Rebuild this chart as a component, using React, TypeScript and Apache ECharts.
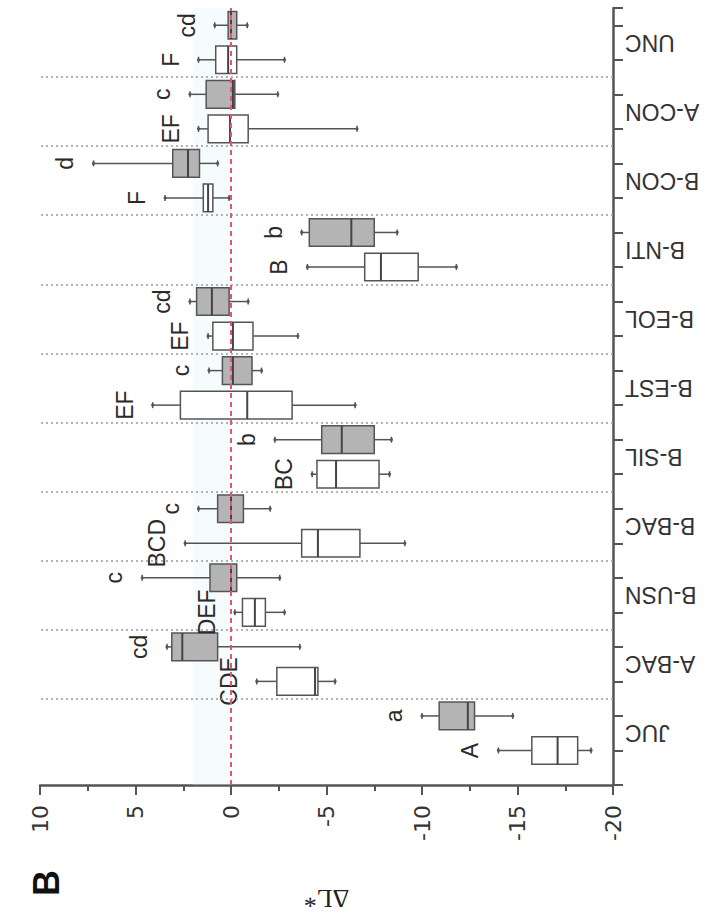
import React, { useEffect, useRef } from 'react';
import * as echarts from 'echarts';

// Categories, bottom (JUC) to top (UNC)
const categories = ['JUC', 'A-BAC', 'B-USN', 'B-BAC', 'B-SIL', 'B-EST', 'B-EOL', 'B-NTI', 'B-CON', 'A-CON', 'UNC'];

// White boxes (uppercase letters): [min, Q1, median, Q3, max] of ΔL*
const whiteStats = [
  [-18.85, -18.15, -17.1, -15.75, -14.0],
  [-5.45, -4.55, -4.4, -2.4, -1.35],
  [-2.8, -1.8, -1.25, -0.6, -0.2],
  [-9.1, -6.75, -4.55, -3.7, 2.4],
  [-8.3, -7.75, -5.5, -4.5, -4.25],
  [-6.5, -3.2, -0.85, 2.65, 4.1],
  [-3.5, -1.15, -0.1, 0.95, 1.2],
  [-11.8, -9.8, -7.85, -7.0, -4.0],
  [0.1, 0.95, 1.2, 1.45, 3.45],
  [-6.6, -0.9, 0.05, 1.2, 1.7],
  [-2.8, -0.3, 0.15, 0.8, 1.7],
];

// Grey boxes (lowercase letters): [min, Q1, median, Q3, max]
const grayStats = [
  [-14.75, -12.75, -12.4, -10.9, -10.0],
  [-3.6, 0.7, 2.55, 3.1, 3.35],
  [-2.55, -0.3, 0.0, 1.1, 4.65],
  [-2.05, -0.65, 0.0, 0.7, 1.7],
  [-8.4, -7.5, -5.8, -4.75, -2.3],
  [-1.6, -1.1, -0.1, 0.45, 1.15],
  [-0.9, 0.1, 1.0, 1.8, 2.15],
  [-8.7, -7.5, -6.3, -4.1, -3.7],
  [0.7, 1.65, 2.25, 3.05, 7.2],
  [-2.45, -0.2, -0.1, 1.3, 2.15],
  [-0.85, -0.3, 0.0, 0.15, 0.85],
];

const whiteLetters = ['A', 'CDE', 'DEF', 'BCD', 'BC', 'EF', 'EF', 'B', 'F', 'EF', 'F'];
const grayLetters = ['a', 'cd', 'c', 'c', 'b', 'c', 'cd', 'b', 'd', 'c', 'cd'];

const valueMin = -20;
const valueMax = 10;
const valueStep = 5;

const SANS = '"Liberation Sans", Arial, sans-serif';

function makeRenderItem(fill: string, letters: string[]) {
  return (params: any, api: any) => {
    const pos = api.value(0);
    const vals = [1, 2, 3, 4, 5].map((k) => api.value(k));
    const letter = letters[params.dataIndex] || '';
    const h = api.size([0, 1])[1] * 0.8;
    const y = api.coord([0, pos])[1];
    const px = vals.map((v: number) => api.coord([v, pos])[0]);
    const left = Math.min(px[1], px[3]);
    const right = Math.max(px[1], px[3]);
    const stroke = '#555';
    const lw = 1.5;
    const children: any[] = [
      { type: 'line', shape: { x1: px[0], y1: y, x2: px[1], y2: y }, style: { stroke, lineWidth: lw } },
      { type: 'line', shape: { x1: px[3], y1: y, x2: px[4], y2: y }, style: { stroke, lineWidth: lw } },
      { type: 'line', shape: { x1: px[0], y1: y - 3, x2: px[0], y2: y + 3 }, style: { stroke, lineWidth: lw } },
      { type: 'line', shape: { x1: px[4], y1: y - 3, x2: px[4], y2: y + 3 }, style: { stroke, lineWidth: lw } },
      { type: 'circle', shape: { cx: px[0], cy: y, r: 1.6 }, style: { fill: stroke } },
      { type: 'circle', shape: { cx: px[4], cy: y, r: 1.6 }, style: { fill: stroke } },
      {
        type: 'rect',
        shape: { x: left, y: y - h / 2, width: right - left, height: h },
        style: { fill, stroke, lineWidth: lw },
      },
      {
        type: 'line',
        shape: { x1: px[2], y1: y - h / 2, x2: px[2], y2: y + h / 2 },
        style: { stroke: '#444', lineWidth: 2 },
      },
      {
        type: 'text',
        x: px[4] - 28,
        y: y,
        rotation: Math.PI / 2,
        style: {
          text: letter,
          fill: '#2a2a2a',
          font: `23px ${SANS}`,
          align: 'center',
          verticalAlign: 'middle',
        },
      },
    ];
    return { type: 'group', children };
  };
}

export default function App() {
  const ref = useRef<HTMLDivElement>(null);

  useEffect(() => {
    document.body.style.margin = '0';
    if (!ref.current) return;
    const chart = echarts.init(ref.current, null, { renderer: 'svg' });

    const nPos = categories.length * 2;
    const posMax = nPos + 0.5;
    const whiteData = whiteStats.map((s, i) => [2 * i + 1, ...s]);
    const grayData = grayStats.map((s, i) => [2 * i + 2, ...s]);
    const separators = categories.slice(1).map((_, i) => 2 * i + 2.5);

    const axisColor = '#555';

    const option: any = {
      animation: false,
      backgroundColor: '#fff',
      grid: { left: 40, right: 103, top: 8, bottom: 139, containLabel: false },
      xAxis: {
        type: 'value',
        inverse: true,
        min: valueMin,
        max: valueMax,
        interval: valueStep,
        name: 'ΔL*',
        nameLocation: 'middle',
        nameGap: 100,
        nameRotate: 180,
        nameTextStyle: { fontFamily: '"Liberation Serif", "DejaVu Serif", serif', fontSize: 26, color: '#222' },
        axisLine: { show: true, onZero: false, lineStyle: { color: axisColor, width: 2.5 } },
        axisTick: { show: true, inside: false, length: 10, lineStyle: { color: axisColor, width: 2 } },
        minorTick: { show: true, splitNumber: 2, length: 6, lineStyle: { color: axisColor, width: 2 } },
        axisLabel: {
          rotate: 90,
          margin: 20,
          fontSize: 22,
          fontFamily: '"DejaVu Sans", sans-serif',
          color: '#333',
        },
        splitLine: { show: false },
      },
      yAxis: [
        {
          type: 'value',
          position: 'right',
          min: 0,
          max: posMax,
          interval: 1,
          axisLine: { show: true, onZero: false, lineStyle: { color: axisColor, width: 2.5 } },
          axisTick: { show: true, inside: false, length: 10, lineStyle: { color: axisColor, width: 2 } },
          axisLabel: { show: false },
          splitLine: { show: false },
        },
        {
          type: 'value',
          position: 'right',
          min: 0,
          max: posMax,
          interval: 0.5,
          axisLine: { show: false },
          axisTick: { show: false },
          splitLine: { show: false },
          axisLabel: {
            rotate: 180,
            margin: 12,
            fontSize: 23,
            fontFamily: SANS,
            color: '#333',
            formatter: (v: number) => {
              const idx = (v - 1.5) / 2;
              if (Math.abs(idx - Math.round(idx)) < 1e-6 && idx >= 0 && idx < categories.length) {
                return categories[Math.round(idx)];
              }
              return '';
            },
          },
        },
      ],
      graphic: [
        {
          type: 'text',
          x: 46,
          y: 883,
          rotation: Math.PI / 2,
          style: {
            text: 'B',
            font: `bold 36px ${SANS}`,
            fill: '#111',
            align: 'center',
            verticalAlign: 'middle',
          },
        },
      ],
      series: [
        {
          type: 'custom',
          name: 'grey',
          xAxisIndex: 0,
          yAxisIndex: 0,
          clip: false,
          z: 3,
          renderItem: makeRenderItem('#b4b4b4', grayLetters),
          encode: { x: [1, 2, 3, 4, 5], y: 0 },
          data: grayData,
          markArea: {
            silent: true,
            itemStyle: { color: 'rgba(220,242,246,0.25)' },
            data: [[{ xAxis: 0 }, { xAxis: 2 }]],
          },
        },
        {
          type: 'custom',
          name: 'white',
          xAxisIndex: 0,
          yAxisIndex: 0,
          clip: false,
          z: 3,
          renderItem: makeRenderItem('#ffffff', whiteLetters),
          encode: { x: [1, 2, 3, 4, 5], y: 0 },
          data: whiteData,
          markLine: {
            silent: true,
            symbol: 'none',
            label: { show: false },
            lineStyle: { color: '#9a9a9a', type: [2, 3], width: 1.5 },
            data: separators.map((v) => ({ yAxis: v })),
          },
        },
        {
          type: 'line',
          name: 'zero',
          xAxisIndex: 0,
          yAxisIndex: 0,
          data: [],
          z: 10,
          markLine: {
            silent: true,
            symbol: 'none',
            label: { show: false },
            lineStyle: { color: '#e4566c', type: [5, 4], width: 2 },
            data: [{ xAxis: 0 }],
          },
        },
      ],
    };

    chart.setOption(option);
    return () => chart.dispose();
  }, []);

  return <div ref={ref} style={{ width: 716, height: 924 }} />;
}
